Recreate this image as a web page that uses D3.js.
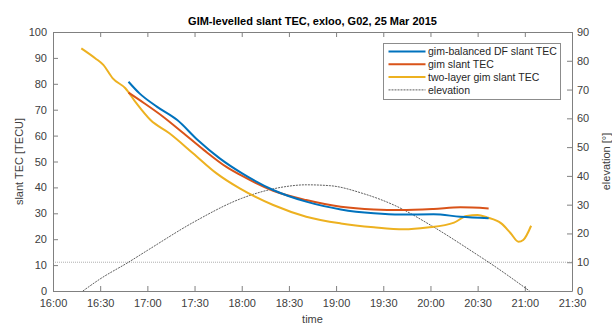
<!DOCTYPE html>
<html>
<head>
<meta charset="utf-8">
<script src="https://cdn.jsdelivr.net/npm/d3@7"></script>
<style>
  body { margin: 0; background: #fff; }
  text { font-family: "Liberation Sans", Arial, Helvetica, sans-serif; }
</style>
</head>
<body>
<div id="chart"></div>
<script>
// ---- data ----
var xTickLabels = ["16:00","16:30","17:00","17:30","18:00","18:30","19:00","19:30","20:00","20:30","21:00","21:30"];
var leftTicks = [0,10,20,30,40,50,60,70,80,90,100];
var rightTicks = [0,10,20,30,40,50,60,70,80,90];

var seriesNames = ["gim-balanced DF slant TEC", "gim slant TEC", "two-layer gim slant TEC", "elevation"];

var blueTimes = ["16:48","16:55","17:06","17:19","17:32","17:46","18:00","18:20","18:41","19:03","19:24","19:41","20:02","20:19","20:37"];
var blueTec   = [80.8, 76.3, 71.2, 66.0, 58.3, 51.2, 45.5, 39.0, 34.5, 31.5, 30.0, 29.5, 29.6, 28.7, 28.1];

var redTimes = ["16:48","16:58","17:10","17:23","17:36","17:50","18:00","18:20","18:41","19:03","19:24","19:41","20:02","20:19","20:37"];
var redTec   = [76.6, 72.5, 67.3, 60.9, 54.4, 48.0, 44.5, 38.7, 35.1, 32.5, 31.5, 31.3, 31.7, 32.3, 31.9];

var yellowTimes = ["16:18","16:27","16:32","16:38","16:46","16:53","17:02","17:14","17:29","17:44","17:59","18:20","18:41","19:03","19:24","19:43","19:58","20:15","20:23","20:30","20:36","20:45","20:51","20:56","20:59","21:04"];
var yellowTec   = [93.7, 89.8, 87.3, 82.1, 78.3, 72.5, 66.0, 60.9, 53.2, 45.4, 39.5, 33.2, 28.7, 26.1, 24.6, 23.8, 24.5, 26.4, 29.0, 29.3, 28.4, 26.1, 22.3, 19.0, 19.7, 25.2];

var elevTimes = ["16:19","16:30","16:48","17:00","17:30","18:00","18:27","18:41","18:56","19:17","19:39","20:00","20:30","20:37","21:03"];
var elevDeg   = [0, 4.2, 10, 14.1, 24.1, 32.2, 36.2, 36.9, 36.6, 33.9, 29.3, 22.9, 12.5, 10, 0];

var cutoffElevation = 10;

// ---- layout ----
var W = 612, H = 325;
var plotL = 53, plotR = 572, plotT = 32, plotB = 291;
var colors = ["#0072BD", "#D95319", "#EDB120"];
var axisCol = "#808080", textCol = "#404040";

var parseTime = d3.timeParse("%H:%M");

var svg = d3.select("#chart").append("svg")
    .attr("width", W)
    .attr("height", H);

var x = d3.scaleTime()
    .domain([parseTime("16:00"), parseTime("21:30")])
    .range([plotL, plotR]);
var yL = d3.scaleLinear().domain([0, 100]).range([plotB, plotT]);
var yR = d3.scaleLinear().domain([0, 90]).range([plotB, plotT]);

var xTicks = xTickLabels.map(parseTime);

// axes
var gx = svg.append("g")
    .attr("transform", "translate(0," + plotB + ")")
    .call(d3.axisBottom(x).tickValues(xTicks).tickFormat(d3.timeFormat("%H:%M"))
        .tickSizeInner(-5).tickSizeOuter(0).tickPadding(8));

var gxTop = svg.append("g")
    .attr("transform", "translate(0," + plotT + ")")
    .call(d3.axisTop(x).tickValues(xTicks).tickFormat("")
        .tickSizeInner(-5).tickSizeOuter(0));

var gyL = svg.append("g")
    .attr("transform", "translate(" + plotL + ",0)")
    .call(d3.axisLeft(yL).tickValues(leftTicks).tickSizeInner(-5).tickSizeOuter(0).tickPadding(6));

var gyR = svg.append("g")
    .attr("transform", "translate(" + plotR + ",0)")
    .call(d3.axisRight(yR).tickValues(rightTicks).tickSizeInner(-5).tickSizeOuter(0).tickPadding(5));

[gx, gxTop, gyL, gyR].forEach(function (g) {
    g.select(".domain").attr("stroke", axisCol);
    g.selectAll(".tick line").attr("stroke", axisCol);
    g.selectAll(".tick text")
        .attr("fill", textCol)
        .style("font-size", "11px")
        .style("font-family", "'Liberation Sans', Arial, sans-serif");
});

// cutoff line
svg.append("line")
    .attr("x1", plotL).attr("x2", plotR)
    .attr("y1", yR(cutoffElevation)).attr("y2", yR(cutoffElevation))
    .attr("stroke", "#9a9a9a")
    .attr("stroke-width", 0.8)
    .attr("stroke-dasharray", "1,1");

// elevation curve
var elevData = elevTimes.map(function (t, i) { return { t: parseTime(t), v: elevDeg[i] }; });
svg.append("path")
    .datum(elevData)
    .attr("fill", "none")
    .attr("stroke", "#333")
    .attr("stroke-width", 0.8)
    .attr("stroke-dasharray", "2,1")
    .attr("d", d3.line().x(function (d) { return x(d.t); }).y(function (d) { return yR(d.v); })
        .curve(d3.curveMonotoneX));

// TEC lines
var tecSeries = [
    { times: blueTimes, vals: blueTec },
    { times: redTimes, vals: redTec },
    { times: yellowTimes, vals: yellowTec }
];
var tecLine = d3.line()
    .x(function (d) { return x(d.t); })
    .y(function (d) { return yL(d.v); })
    .curve(d3.curveMonotoneX);

// draw yellow first, then red, then blue on top
[2, 1, 0].forEach(function (k) {
    var s = tecSeries[k];
    var data = s.times.map(function (t, i) { return { t: parseTime(t), v: s.vals[i] }; });
    svg.append("path")
        .datum(data)
        .attr("fill", "none")
        .attr("stroke", colors[k])
        .attr("stroke-width", 2)
        .attr("stroke-linejoin", "round")
        .attr("d", tecLine);
});

// title
svg.append("text")
    .attr("x", (plotL + plotR) / 2)
    .attr("y", 25)
    .attr("text-anchor", "middle")
    .style("font-size", "11px")
    .style("font-weight", "bold")
    .attr("fill", "#000")
    .text("GIM-levelled slant TEC, exloo, G02, 25 Mar 2015");

// axis labels
svg.append("text")
    .attr("x", (plotL + plotR) / 2)
    .attr("y", 323)
    .attr("text-anchor", "middle")
    .style("font-size", "11px")
    .attr("fill", textCol)
    .text("time");

svg.append("text")
    .attr("transform", "translate(23," + (plotT + plotB) / 2 + ") rotate(-90)")
    .attr("text-anchor", "middle")
    .style("font-size", "11px")
    .attr("fill", textCol)
    .text("slant TEC [TECU]");

svg.append("text")
    .attr("transform", "translate(610," + (plotT + plotB) / 2 + ") rotate(-90)")
    .attr("text-anchor", "middle")
    .style("font-size", "11px")
    .attr("fill", textCol)
    .text("elevation [°]");

// legend
var legend = svg.append("g");
legend.append("rect")
    .attr("x", 383.5).attr("y", 43.5)
    .attr("width", 177).attr("height", 56)
    .attr("fill", "#fff")
    .attr("stroke", "#8c8c8c")
    .attr("stroke-width", 1);

seriesNames.forEach(function (name, i) {
    var yy = 51.5 + i * 12.8;
    var ln = legend.append("line")
        .attr("x1", 388.5).attr("x2", 425.5)
        .attr("y1", yy).attr("y2", yy);
    if (i < 3) {
        ln.attr("stroke", colors[i]).attr("stroke-width", 2);
    } else {
        ln.attr("stroke", "#333").attr("stroke-width", 0.8).attr("stroke-dasharray", "2,1");
    }
    legend.append("text")
        .attr("x", 428)
        .attr("y", yy)
        .attr("dy", "0.35em")
        .style("font-size", "10.5px")
        .attr("fill", "#262626")
        .text(name);
});
</script>
</body>
</html>
